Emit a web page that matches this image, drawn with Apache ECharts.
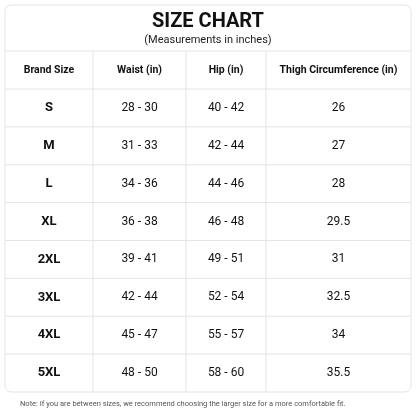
<!DOCTYPE html>
<html>
<head>
<meta charset="utf-8">
<script src="https://cdn.jsdelivr.net/npm/echarts@6/dist/echarts.min.js"></script>
<style>html,body{margin:0;padding:0;background:#fff}#chart{width:416px;height:416px}</style>
</head>
<body>
<div id="chart"></div>
<script>
var headers = ['Brand Size', 'Waist (in)', 'Hip (in)', 'Thigh Circumference (in)'];
var sizes = ['S', 'M', 'L', 'XL', '2XL', '3XL', '4XL', '5XL'];
var waist = ['28 - 30', '31 - 33', '34 - 36', '36 - 38', '39 - 41', '42 - 44', '45 - 47', '48 - 50'];
var hip = ['40 - 42', '42 - 44', '44 - 46', '46 - 48', '49 - 51', '52 - 54', '55 - 57', '58 - 60'];
var thigh = ['26', '27', '28', '29.5', '31', '32.5', '34', '35.5'];

var colX = [5, 93, 186, 266, 411];
var top0 = 51, headBot = 89, bottom = 392;
var rowH = (bottom - headBot) / sizes.length;
var lineColor = '#e4e4e4';
var font = 'Roboto, "Liberation Sans", sans-serif';

var els = [];
// outer box
els.push({ type: 'rect', shape: { x: 5, y: 5, width: 406, height: 387, r: 6 },
  style: { fill: '#fff', stroke: lineColor, lineWidth: 1 } });
els.push({ type: 'text', x: 208, y: 22, style: { text: 'SIZE CHART', font: 'bold 20px ' + font, fill: '#111', align: 'center', verticalAlign: 'middle' } });
els.push({ type: 'text', x: 208, y: 40, style: { text: '(Measurements in inches)', font: '11px ' + font, fill: '#222', align: 'center', verticalAlign: 'middle' } });
// horizontal lines
els.push({ type: 'line', shape: { x1: 5, y1: top0, x2: 411, y2: top0 }, style: { stroke: lineColor } });
for (var r = 0; r < sizes.length; r++) {
  var y = headBot + r * rowH;
  els.push({ type: 'line', shape: { x1: 5, y1: y, x2: 411, y2: y }, style: { stroke: lineColor } });
}
// vertical lines
for (var c = 1; c < colX.length - 1; c++) {
  els.push({ type: 'line', shape: { x1: colX[c], y1: top0, x2: colX[c], y2: bottom }, style: { stroke: lineColor } });
}
function cx(c) { return (colX[c] + colX[c + 1]) / 2; }
headers.forEach(function (h, c) {
  els.push({ type: 'text', x: cx(c), y: (top0 + headBot) / 2, style: { text: h, font: 'bold 10.5px ' + font, fill: '#111', align: 'center', verticalAlign: 'middle' } });
});
var cols = [sizes, waist, hip, thigh];
for (var r = 0; r < sizes.length; r++) {
  var y = headBot + (r + 0.5) * rowH;
  cols.forEach(function (arr, c) {
    els.push({ type: 'text', x: cx(c), y: y, style: { text: arr[r], font: (c === 0 ? 'bold 13px ' : '12px ') + font, fill: '#111', align: 'center', verticalAlign: 'middle' } });
  });
}
els.push({ type: 'text', x: 20, y: 404, style: { text: 'Note: If you are between sizes, we recommend choosing the larger size for a more comfortable fit.', font: '7.5px ' + font, fill: '#555', align: 'left', verticalAlign: 'middle' } });

var myChart = echarts.init(document.getElementById('chart'));
myChart.setOption({ animation: false, graphic: { elements: els } });
</script>
</body>
</html>
